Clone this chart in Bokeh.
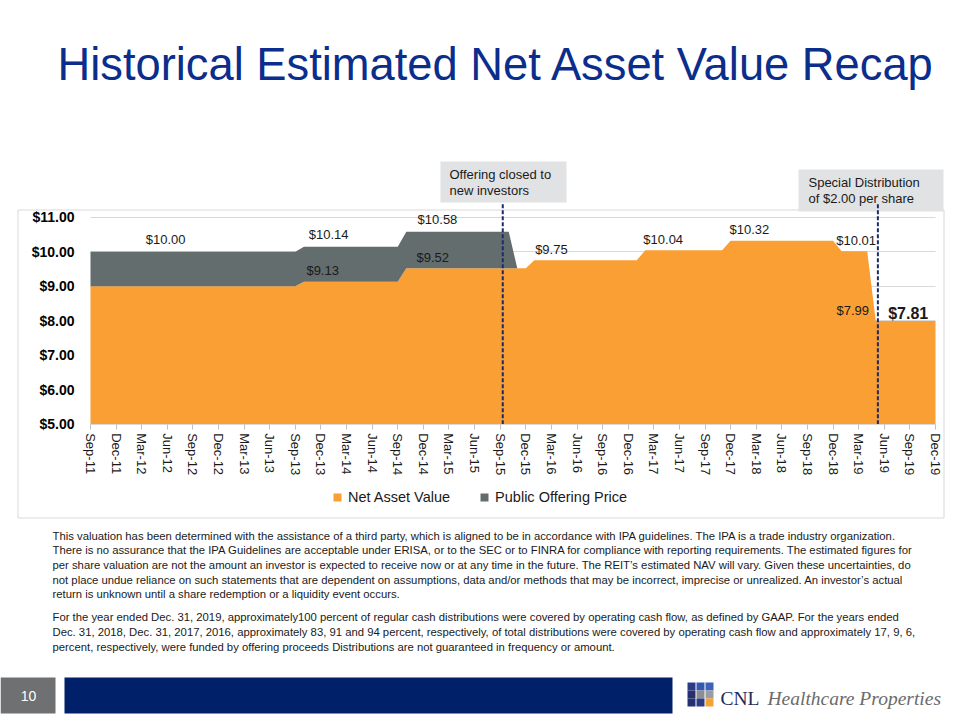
from bokeh.plotting import figure
from bokeh.models import (ColumnDataSource, FixedTicker, NumeralTickFormatter, Range1d,
                          Legend, LegendItem, Grid)
from bokeh.core.properties import value
from bokeh.embed import file_html
from bokeh.resources import INLINE

# ---------------- data ----------------
quarter_labels = ["Sep-11", "Dec-11", "Mar-12", "Jun-12", "Sep-12", "Dec-12", "Mar-13", "Jun-13",
                  "Sep-13", "Dec-13", "Mar-14", "Jun-14", "Sep-14", "Dec-14", "Mar-15", "Jun-15",
                  "Sep-15", "Dec-15", "Mar-16", "Jun-16", "Sep-16", "Dec-16", "Mar-17", "Jun-17",
                  "Sep-17", "Dec-17", "Mar-18", "Jun-18", "Sep-18", "Dec-18", "Mar-19", "Jun-19",
                  "Sep-19", "Dec-19"]
y_ticks = [5, 6, 7, 8, 9, 10, 11]

# monthly values, Sep-11 .. Dec-19 (100 months)
net_asset_value = ([9.00] * 25 + [9.13] * 12 + [9.52] * 15 + [9.75] * 13 +
                   [10.04] * 10 + [10.32] * 13 + [10.01] * 4 + [7.99] * 8)
public_offering_price = [10.00] * 25 + [10.14] * 12 + [10.58] * 13 + [None] * 50

price_labels = [10.00, 10.14, 10.58]
nav_labels = [9.13, 9.52, 9.75, 10.04, 10.32, 10.01, 7.99]
latest_nav = 7.81

event_names = [["Offering closed to", "new investors"],
               ["Special Distribution", "of $2.00 per share"]]

title_text = "Historical Estimated Net Asset Value Recap"
page_number = "10"
company = ["CNL", "Healthcare Properties"]

footnote_lines = [
    "This valuation has been determined with the assistance of a third party, which is aligned to be in accordance with IPA guidelines. The IPA is a trade industry organization.",
    "There is no assurance that the IPA Guidelines are acceptable under ERISA, or to the SEC or to FINRA for compliance with reporting requirements. The estimated figures for",
    "per share valuation are not the amount an investor is expected to receive now or at any time in the future. The REIT\u2019s estimated NAV will vary. Given these uncertainties, do",
    "not place undue reliance on such statements that are dependent on assumptions, data and/or methods that may be incorrect, imprecise or unrealized. An investor\u2019s actual",
    "return is unknown until a share redemption or a liquidity event occurs.",
    "For the year ended Dec. 31, 2019, approximately100 percent of regular cash distributions were covered by operating cash flow, as defined by GAAP. For the years ended",
    "Dec. 31, 2018, Dec. 31, 2017, 2016, approximately 83, 91 and 94 percent, respectively, of total distributions were covered by operating cash flow and approximately 17, 9, 6,",
    "percent, respectively, were funded by offering proceeds Distributions are not guaranteed in frequency or amount.",
]

# ---------------- styling / page geometry ----------------
FONT = "Liberation Sans"
ORANGE = "#F99F33"
GRAY = "#646D6D"
NAVY = "#0B2D8C"
BOXFILL = "#E1E2E4"
TXT = "#1a1a1a"

W, H = 960, 720
PX_PER_MONTH = 845 / 99      # chart plot area 90..935 px
PX_PER_DOLLAR = 34.5         # $11 at 216.7 px, $5 at 423.7 px
x_lo = -90 / PX_PER_MONTH
x_hi = 99 + (W - 935) / PX_PER_MONTH
y_lo = 5 - (H - 423.7) / PX_PER_DOLLAR
y_hi = 11 + 216.7 / PX_PER_DOLLAR

p = figure(width=W, height=H, output_backend="svg", toolbar_location=None,
           x_range=Range1d(x_lo, x_hi), y_range=Range1d(y_lo, y_hi), min_border=0,
           background_fill_color="white", border_fill_color="white", outline_line_color=None)
p.extra_x_ranges = {"px": Range1d(0, W)}
p.extra_y_ranges = {"py": Range1d(H, 0)}
PXY = dict(x_range_name="px", y_range_name="py")

# chart object border
p.quad(left=[17.5], right=[943.5], top=[209.5], bottom=[517.5], fill_color=None,
       line_color="#D9D9D9", line_width=1, **PXY)

# call-out boxes
p.quad(left=[41.0, 82.95], right=[55.77, 99.94], top=[12.614, 12.383], bottom=[11.426, 11.165],
       fill_color=BOXFILL, line_color=None)

# grid
if "cross_bounds" in Grid.properties():
    p.ygrid.cross_bounds = (0, 99)
    p.ygrid.bounds = (y_ticks[0], y_ticks[-1])
    p.ygrid.grid_line_color = "#D9D9D9"
else:
    p.ygrid.visible = False
    p.segment(x0=[0] * len(y_ticks), x1=[99] * len(y_ticks), y0=y_ticks, y1=y_ticks,
              line_color="#D9D9D9", line_width=1)
p.xgrid.visible = False

# areas
months = list(range(len(net_asset_value)))
premium = [(pp - n) if pp is not None else 0.0 for pp, n in zip(public_offering_price, net_asset_value)]
offer_top = [n + d for n, d in zip(net_asset_value, premium)]
src = ColumnDataSource(dict(x=months, nav=net_asset_value, top=offer_top,
                            base=[y_ticks[0]] * len(months)))
p.varea(x="x", y1="base", y2="nav", source=src, fill_color=ORANGE)
p.varea(x="x", y1="nav", y2="top", source=src, fill_color=GRAY)

# event markers
event_x = [48.3, 92.25]
p.segment(x0=event_x, y0=[y_ticks[0]] * 2, x1=event_x, y1=[11.4, 11.4], line_color="#1B2A6B",
          line_width=2, line_dash="4 2")
text_x = [42.06, 84.12]
text_y = [[12.238, 11.774], [12.006, 11.542]]
for names, tx, tys in zip(event_names, text_x, text_y):
    p.text(x=[tx, tx], y=tys, text=names, text_font=value(FONT), text_font_size="13px",
           text_color=TXT, text_align="left", text_baseline="middle")

# data labels
price_at = [8.8, 27.9, 40.65]
nav_at = [27.2, 40.1, 54.0, 67.1, 77.2, 89.7, 89.3]
p.text(x=price_at, y=price_labels, text=[f"${v:.2f}" for v in price_labels], y_offset=-12,
       text_font=value(FONT), text_font_size="13px", text_color=TXT,
       text_align="center", text_baseline="middle")
p.text(x=nav_at, y=nav_labels, text=[f"${v:.2f}" for v in nav_labels], y_offset=-11,
       text_font=value(FONT), text_font_size="13px", text_color=TXT,
       text_align="center", text_baseline="middle")
p.text(x=[95.8], y=[latest_nav], text=[f"${latest_nav:.2f}"], y_offset=-14,
       text_font=value(FONT), text_font_size="16px", text_font_style="bold",
       text_color=TXT, text_align="center", text_baseline="middle")

# axes (drawn at fixed data locations)
p.xaxis.fixed_location = y_ticks[0]
p.xaxis.bounds = (0, 99)
p.xaxis.ticker = FixedTicker(ticks=list(range(0, 100, 3)))
p.xaxis.major_label_overrides = {i * 3: lab for i, lab in enumerate(quarter_labels)}
p.xaxis.major_label_orientation = "vertical"
p.xaxis.major_label_text_font = FONT
p.xaxis.major_label_text_font_size = "13px"
p.xaxis.major_label_text_color = TXT
p.xaxis.axis_line_color = "#D9D9D9"
p.xaxis.major_tick_line_color = "#BFBFBF"
p.xaxis.major_tick_in = 0
p.xaxis.major_tick_out = 5
p.xaxis.minor_tick_line_color = None
p.xaxis.major_label_standoff = 4

p.yaxis.fixed_location = 0
p.yaxis.bounds = (y_ticks[0], y_ticks[-1])
p.yaxis.ticker = FixedTicker(ticks=y_ticks)
p.yaxis.formatter = NumeralTickFormatter(format="$0.00")
p.yaxis.major_label_text_font = FONT
p.yaxis.major_label_text_font_size = "14px"
p.yaxis.major_label_text_font_style = "bold"
p.yaxis.major_label_text_color = "#000000"
p.yaxis.axis_line_color = None
p.yaxis.major_tick_line_color = None
p.yaxis.minor_tick_line_color = None
p.yaxis.major_tick_in = 0
p.yaxis.major_tick_out = 0
p.yaxis.major_label_standoff = 16

# legend (marker renderers hold one off-screen point so the swatch is drawn)
nan = float("nan")
lg_nav = p.scatter(x=[nan], y=[nan], marker="square", size=8, fill_color=ORANGE, line_color=None)
lg_off = p.scatter(x=[nan], y=[nan], marker="square", size=8, fill_color=GRAY, line_color=None)
legend = Legend(items=[LegendItem(label="Net Asset Value", renderers=[lg_nav]),
                       LegendItem(label="Public Offering Price", renderers=[lg_off])],
                location=(327, 213), orientation="horizontal", glyph_width=20, glyph_height=20,
                label_height=20, label_standoff=1, spacing=24, padding=0, margin=0,
                border_line_color=None, background_fill_alpha=0,
                label_text_font=FONT, label_text_font_size="14.5px", label_text_color=TXT)
p.add_layout(legend)

# title
p.text(x=[57], y=[64], text=[title_text], text_font=value(FONT), text_font_size="45.3px",
       text_color=NAVY, text_baseline="middle", text_align="left", **PXY)

# footnotes
foot_centers = [535, 549.7, 564.4, 579.1, 593.8, 616.7, 631.4, 646.1]
p.text(x=[52] * len(footnote_lines), y=foot_centers, text=footnote_lines,
       text_font=value(FONT), text_font_size="11.3px", text_color=TXT,
       text_align="left", text_baseline="middle", **PXY)

# footer
p.quad(left=[0, 64], right=[55, 672], top=[677, 677], bottom=[713, 713],
       fill_color=["#6F7072", "#002069"], line_color=None, **PXY)
p.text(x=[28], y=[695], text=[page_number], text_font=value(FONT), text_font_size="14px",
       text_color="white", text_align="center", text_baseline="middle", **PXY)

cell_left = [687, 696, 705, 687, 696, 705, 687, 696, 705]
cell_top = [682, 682, 682, 690, 690, 690, 698, 698, 698]
cell_col = ["#2B3A85", "#3458B0", "#3C62BA", "#25306F", "#8C8E93", "#9A9CA0",
            "#25306F", "#2B3A85", "#F7A133"]
p.quad(left=cell_left, right=[c + 8 for c in cell_left], top=cell_top,
       bottom=[c + 8 for c in cell_top], fill_color=cell_col, line_color=None, **PXY)
p.text(x=[720], y=[698], text=[company[0]], text_font=value("Liberation Serif"),
       text_font_size="19.5px", text_color="#1D2A5A", text_baseline="middle", **PXY)
p.text(x=[767], y=[698], text=[company[1]], text_font=value("Liberation Serif"),
       text_font_size="19.5px", text_font_style="italic", text_color="#6B6B6B",
       text_baseline="middle", **PXY)

open("out.html", "w").write(file_html(p, INLINE))
